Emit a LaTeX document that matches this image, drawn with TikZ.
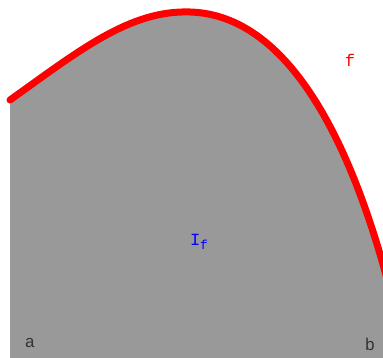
\documentclass[tikz,border=0pt]{standalone}
\usepackage{amsmath}
\usepackage{fontspec}
\setmonofont{Liberation Mono}
\usepackage{tikz}

\tikzset{lbl/.style={font=\ttfamily\fontsize{17}{17}\selectfont,inner sep=0pt}}

\begin{document}
\begin{tikzpicture}[x=1pt,y=-1pt]
\useasboundingbox (0,0) rectangle (383,358);
\clip (0,0) rectangle (383,358);

% Area under the curve
\fill[fill={rgb,255:red,153;green,153;blue,153}]
  (10,358) -- (10,100) .. controls (80,50) and (130,10) .. (190,12)
  .. controls (260,14) and (335,80) .. (390,290) -- (390,358) -- cycle;

% Curve f
\draw[red,line width=7pt,line cap=round]
  (10,100) .. controls (80,50) and (130,10) .. (190,12)
  .. controls (260,14) and (335,80) .. (390,290);

% Labels
\node[lbl,text=red] (f) at (350,60) {f};
\node[lbl,text=blue] (If) at (199,242) {I\raisebox{-0.25em}{\fontsize{13}{13}\selectfont f}};
\node[lbl,text=black!80] (a) at (30,343) {a};
\node[lbl,text=black!80] (b) at (370,344) {b};
\end{tikzpicture}
\end{document}
